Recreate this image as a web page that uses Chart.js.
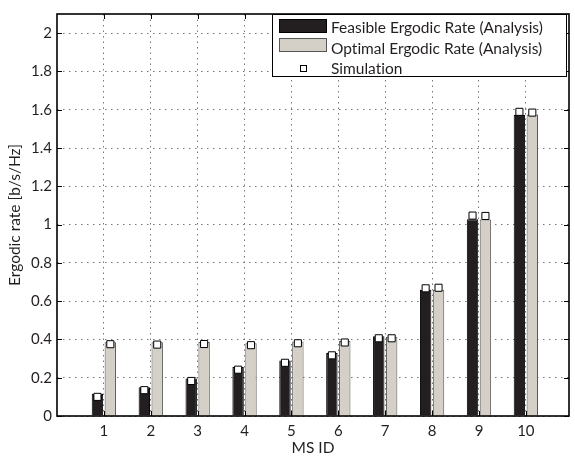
<!DOCTYPE html>
<html lang="en">
<head>
<meta charset="UTF-8">
<title>Ergodic rate per MS</title>
<script src="https://cdn.jsdelivr.net/npm/chart.js@4.4.2/dist/chart.umd.min.js"></script>
<style>
  body { margin: 0; background: #fff; }
  .wrap { position: relative; width: 575px; height: 460px; font-family: Lato, sans-serif; color: #231f20;
    font-variant-ligatures: none; font-feature-settings: "liga" 0, "clig" 0, "dlig" 0; }
  .legend { position: absolute; left: 272px; top: 14px; width: 293px; height: 61px;
    border: 1px solid #000; background: #fff; }
  .legend .sw { position: absolute; left: 6px; width: 46px; height: 12px; border: 1px solid #000; }
  .legend .mk { position: absolute; left: 27px; top: 50px; width: 5px; height: 5px;
    border: 1px solid #000; background: #fff; }
  .legend .txt { position: absolute; left: 58px; height: 20px; line-height: 20px; font-size: 15.5px; white-space: nowrap; }
</style>
</head>
<body>
<div class="wrap">
  <canvas id="rateChart" width="575" height="460"></canvas>
  <div class="legend">
    <div class="sw" style="top:4px; background:#231f20;"></div>
    <div class="txt" style="top:2px;">Feasible Ergodic Rate (Analysis)</div>
    <div class="sw" style="top:23px; background:#d4d0c8; border-color:#555;"></div>
    <div class="txt" style="top:23px;">Optimal Ergodic Rate (Analysis)</div>
    <div class="mk"></div>
    <div class="txt" style="top:43px;">Simulation</div>
  </div>
</div>

<script>
// values
const MS_IDS = [1, 2, 3, 4, 5, 6, 7, 8, 9, 10];
const FEASIBLE = [0.116, 0.150, 0.196, 0.256, 0.290, 0.329, 0.416, 0.660, 1.028, 1.572];
const OPTIMAL = [0.385, 0.385, 0.387, 0.380, 0.389, 0.392, 0.414, 0.660, 1.027, 1.575];
const SIM_FEASIBLE = [0.100, 0.135, 0.183, 0.242, 0.278, 0.317, 0.406, 0.667, 1.047, 1.589];
const SIM_OPTIMAL = [0.375, 0.373, 0.376, 0.370, 0.380, 0.384, 0.406, 0.670, 1.045, 1.585];
const Y_TICKS = [0, 0.2, 0.4, 0.6, 0.8, 1, 1.2, 1.4, 1.6, 1.8, 2];

const X_MAX = 10.92;
const Y_MAX = 2.1;
const CAT_PCT = 0.55;
const BAR_PCT = 0.885;
const SHIFT = CAT_PCT / 4;   // centre of each bar inside its group
const TICK = 5;
const FONT = 'Lato, sans-serif';

// MATLAB style box with inward ticks on all sides
const frame = {
  id: 'frame',
  afterDraw(chart) {
    const {ctx, chartArea: a, scales: {x, y}} = chart;
    ctx.save();
    ctx.strokeStyle = '#000';
    ctx.lineWidth = 1;
    ctx.beginPath();
    x.ticks.forEach(t => {
      const px = Math.round(x.getPixelForValue(t.value)) + 0.5;
      ctx.moveTo(px, a.bottom); ctx.lineTo(px, a.bottom - TICK);
      ctx.moveTo(px, a.top); ctx.lineTo(px, a.top + TICK);
    });
    y.ticks.forEach(t => {
      const py = Math.round(y.getPixelForValue(t.value)) + 0.5;
      ctx.moveTo(a.left, py); ctx.lineTo(a.left + TICK, py);
      ctx.moveTo(a.right, py); ctx.lineTo(a.right - TICK, py);
    });
    ctx.stroke();
    ctx.lineWidth = 1.6;
    ctx.strokeRect(a.left, a.top, a.right - a.left, a.bottom - a.top);
    ctx.restore();
  }
};

const ctx = document.getElementById('rateChart').getContext('2d');
new Chart(ctx, {
  type: 'bar',
  data: {
    datasets: [
      {
        type: 'bar',
        label: 'Feasible Ergodic Rate (Analysis)',
        data: MS_IDS.map((id, i) => ({x: id, y: FEASIBLE[i]})),
        backgroundColor: '#231f20',
        borderColor: '#000',
        borderWidth: 1,
        categoryPercentage: CAT_PCT,
        barPercentage: BAR_PCT,
        order: 2
      },
      {
        type: 'bar',
        label: 'Optimal Ergodic Rate (Analysis)',
        data: MS_IDS.map((id, i) => ({x: id, y: OPTIMAL[i]})),
        backgroundColor: '#d4d0c8',
        borderColor: '#555',
        borderWidth: 1,
        categoryPercentage: CAT_PCT,
        barPercentage: BAR_PCT,
        order: 2
      },
      {
        type: 'scatter',
        label: 'Simulation',
        data: MS_IDS.map((id, i) => ({x: id - SHIFT, y: SIM_FEASIBLE[i]})),
        pointStyle: 'rect',
        pointRadius: 5,
        backgroundColor: '#fff',
        borderColor: '#000',
        borderWidth: 1,
        order: 0
      },
      {
        type: 'scatter',
        label: 'Simulation',
        data: MS_IDS.map((id, i) => ({x: id + SHIFT, y: SIM_OPTIMAL[i]})),
        pointStyle: 'rect',
        pointRadius: 5,
        backgroundColor: '#fff',
        borderColor: '#000',
        borderWidth: 1,
        order: 0
      }
    ]
  },
  options: {
    responsive: false,
    animation: false,
    devicePixelRatio: 1,
    layout: {padding: {top: 6, right: 1, left: 0, bottom: 0}},
    plugins: {legend: {display: false}, tooltip: {enabled: false}},
    scales: {
      x: {
        type: 'linear',
        min: 0,
        max: X_MAX,
        offset: false,
        afterBuildTicks: s => { s.ticks = MS_IDS.map(v => ({value: v})); },
        afterFit: s => { s.height = 44; },
        grid: {offset: false, color: '#777', drawTicks: false},
        border: {display: false, dash: [1.5, 4]},
        ticks: {padding: 6, color: '#231f20', font: {family: FONT, size: 15},
          callback: v => String(v)},
        title: {display: true, text: 'MS ID', color: '#231f20',
          font: {family: FONT, size: 15.5}, padding: {top: 0, bottom: 3}}
      },
      y: {
        min: 0,
        max: Y_MAX,
        afterBuildTicks: s => { s.ticks = Y_TICKS.map(v => ({value: v})); },
        afterFit: s => { s.width = 57; },
        grid: {color: '#777', drawTicks: false},
        border: {display: false, dash: [1.5, 4.5]},
        ticks: {padding: 5, color: '#231f20', font: {family: FONT, size: 15},
          callback: v => String(+v.toFixed(1))},
        title: {display: true, text: 'Ergodic rate [b/s/Hz]', color: '#231f20',
          font: {family: FONT, size: 15.5}, padding: {top: 6, bottom: 0}}
      }
    }
  },
  plugins: [frame]
});
</script>
</body>
</html>
